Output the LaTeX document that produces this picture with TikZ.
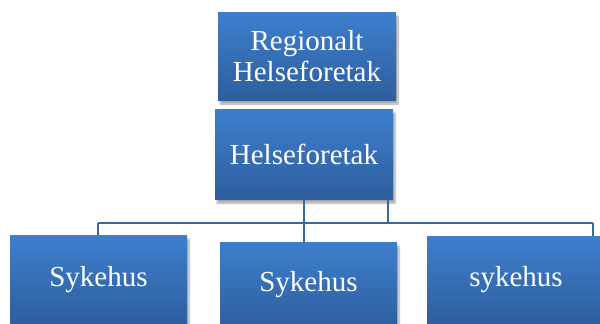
\documentclass[tikz,border=0pt]{standalone}
\usepackage{fontspec}
\setmainfont{Liberation Serif}
\usetikzlibrary{shadows.blur}
\definecolor{boxtop}{HTML}{3D7FCD}
\definecolor{boxbot}{HTML}{2E5E9E}
\definecolor{linec}{HTML}{3A68A3}
\tikzset{
  orgbox/.style={rectangle, inner sep=0pt, top color=boxtop, bottom color=boxbot,
    text=white, font=\fontsize{29}{31}\selectfont, align=center,
    blur shadow={shadow xshift=2pt, shadow yshift=-4pt, shadow blur steps=6, shadow opacity=35}},
  conn/.style={draw=linec, line width=1.6pt}
}
\begin{document}
\begin{tikzpicture}[x=1pt,y=-1pt]
\useasboundingbox (0,0) rectangle (600,324);
\node[orgbox, minimum width=178pt, minimum height=88pt] (r) at (307,56) {Regionalt\\Helseforetak};
\node[orgbox, minimum width=178pt, minimum height=90pt] (h) at (304,154) {Helseforetak};
\node[orgbox, minimum width=177pt, minimum height=90pt] (s1) at (98.5,280) {Sykehus};
\node[orgbox, minimum width=177pt, minimum height=86pt] (s2) at (308.5,285) {Sykehus};
\node[orgbox, minimum width=178pt, minimum height=88pt] (s3) at (516,280) {sykehus};
\coordinate (j1) at (98,223);
\coordinate (j3) at (593,223);
\coordinate (jm) at (304,223);
\coordinate (jr) at (388,223);
\draw[conn] (h.south) -- (h.south |- s2.north);
\draw[conn] (j1) -- (j3);
\draw[conn] (j1) -- (j1 |- s1.north);
\draw[conn] (j3) -- (j3 |- s3.north);
\draw[conn] (h.south -| jr) -- (jr);
\end{tikzpicture}
\end{document}
